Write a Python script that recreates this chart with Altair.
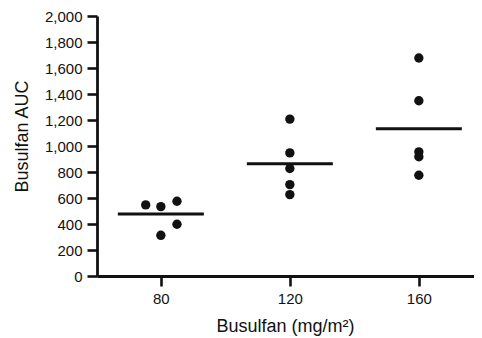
import altair as alt
import pandas as pd

# Individual observations (dose group, plotted x position, AUC)
obs_dose = [80, 80, 80, 80, 80, 120, 120, 120, 120, 120, 160, 160, 160, 160, 160]
obs_xpos = [75.3, 80, 85, 85, 80, 120, 120, 120, 120, 120, 160, 160, 160, 160, 160]
obs_auc = [547, 534, 575, 398, 313, 1207, 947, 827, 703, 626, 1677, 1348, 955, 917, 775]

# Group means (horizontal bars)
mean_dose = [80, 120, 160]
mean_auc = [477, 863, 1132]

y_ticks = list(range(0, 2001, 200))
x_ticks = [80, 120, 160]

pts = pd.DataFrame({"dose": obs_dose, "x": obs_xpos, "auc": obs_auc})
means = pd.DataFrame({"x": mean_dose, "auc": mean_auc})

ink = "#111111"
font = "Liberation Sans"

xscale = alt.Scale(domain=[60.2, 177.1], nice=False, zero=False)
yscale = alt.Scale(domain=[0, 2000], nice=False)

xaxis = alt.Axis(values=x_ticks, title="Busulfan (mg/m²)", titlePadding=11, titleX=188)
yaxis = alt.Axis(values=y_ticks, format=",d", title="Busulfan AUC", titlePadding=13, titleY=120)

base_x = alt.X("x:Q", scale=xscale, axis=xaxis)
base_y = alt.Y("auc:Q", scale=yscale, axis=yaxis)

points = alt.Chart(pts).mark_circle(size=88, color=ink, opacity=1).encode(
    x=base_x, y=base_y,
)

bars = alt.Chart(means).mark_tick(orient="horizontal", size=86, thickness=3, color=ink, opacity=1).encode(
    x=base_x, y=base_y,
)

chart = alt.layer(points, bars).properties(
    width=377, height=260,
    autosize=alt.AutoSizeParams(type="none"),
    padding={"left": 89, "top": 8, "right": 0, "bottom": 62},
    background="white",
).configure_view(stroke=None).configure_axis(
    grid=False,
    domainColor=ink, domainWidth=2.8, tickColor=ink, tickWidth=2.6, tickSize=10,
    labelFont=font, labelFontSize=15, labelColor=ink, labelPadding=5,
    titleFont=font, titleFontSize=18, titleFontWeight="normal", titleColor=ink,
)

chart.save("out.html", embed_options={"renderer": "svg", "actions": False})
